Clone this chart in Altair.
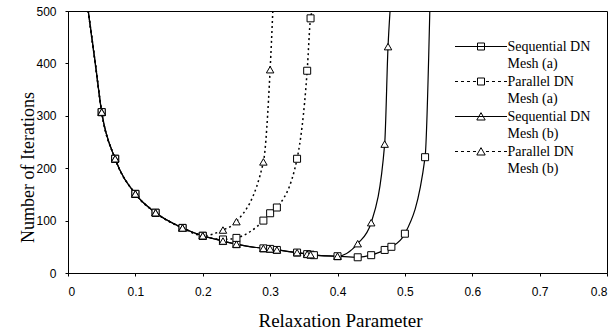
import altair as alt
import pandas as pd

# ---- data ----
seq_a_x = [0.05, 0.07, 0.10, 0.13, 0.17, 0.20, 0.23, 0.25, 0.29, 0.30, 0.31, 0.34, 0.355, 0.36, 0.365, 0.40, 0.43, 0.45, 0.47, 0.48, 0.50, 0.53]
seq_a_y = [307, 218, 151, 115, 86, 71, 61, 55, 47, 46, 44, 39, 36, 35, 34, 32, 30, 34, 44, 50, 75, 221]

par_a_x = [0.05, 0.07, 0.10, 0.13, 0.17, 0.20, 0.23, 0.25, 0.29, 0.30, 0.31, 0.34, 0.355, 0.36]
par_a_y = [307, 218, 151, 115, 86, 71, 64, 67, 100, 114, 125, 218, 386, 486]

seq_b_x = [0.05, 0.07, 0.10, 0.13, 0.17, 0.20, 0.23, 0.25, 0.29, 0.30, 0.31, 0.34, 0.355, 0.36, 0.40, 0.43, 0.45, 0.47, 0.475]
seq_b_y = [307, 218, 151, 115, 86, 71, 61, 55, 47, 46, 44, 39, 36, 35, 32, 56, 96, 246, 432]

par_b_x = [0.05, 0.07, 0.10, 0.13, 0.17, 0.20, 0.23, 0.25, 0.29, 0.30]
par_b_y = [307, 218, 151, 115, 86, 71, 82, 98, 212, 388]

# where the fitted curves leave the plot at the top
curve_start_x = [0.030, 0.0405]
curve_start_y = [500, 400]
seq_a_end = (0.537, 500)
par_a_end = (0.363, 500)
seq_b_end = (0.478, 500)
par_b_end = (0.304, 500)

x_ticks = [0, 0.1, 0.2, 0.3, 0.4, 0.5, 0.6, 0.7, 0.8]
y_ticks = [0, 100, 200, 300, 400, 500]

legend_keys = ["Sequential DN|1", "Mesh (a)|1", "Parallel DN|2", "Mesh (a)|2",
               "Sequential DN|3", "Mesh (b)|3", "Parallel DN|4", "Mesh (b)|4"]

# legend symbol paths (line + marker)
solid = "M-3.714,0H3.714"
dashed = ("M-3.714,0H-3.286M-2.857,0H-2.429M-2,0H-1.571M-1.143,0H-0.714"
          "M0.714,0H1.143M1.571,0H2M2.429,0H2.857M3.286,0H3.714")
sq = "M-0.5,-0.5H0.5V0.5H-0.5Z"
tri = "M0,-0.55L0.6,0.5H-0.6Z"
blank = "M0,0"
legend_paths = [solid + sq, blank, dashed + sq, blank, solid + tri, blank, dashed + tri, blank]


def line_df(xs, ys, end):
    return pd.DataFrame({"x": curve_start_x + xs + [end[0]],
                         "y": curve_start_y + ys + [end[1]]})


def pts_df(xs, ys):
    return pd.DataFrame({"x": xs, "y": ys})


xscale = alt.Scale(domain=[0, 0.8], nice=False, zero=False)
yscale = alt.Scale(domain=[0, 500], nice=False)

xaxis = alt.Axis(values=x_ticks, format=".1~f", title="Relaxation Parameter",
                 tickSize=3, labelPadding=10, titleX=272, titleY=47,
                 titleAlign="center", titleBaseline="middle")
yaxis = alt.Axis(values=y_ticks, title="Number of Iterations", tickSize=3,
                 labelPadding=9, titleX=-40, titleY=156, titleAngle=-90,
                 titleAlign="center", titleBaseline="middle")

X = alt.X("x:Q", scale=xscale, axis=xaxis)
Y = alt.Y("y:Q", scale=yscale, axis=yaxis)


def line(df, dash):
    kw = dict(interpolate="monotone", color="black", strokeWidth=1.2, clip=True)
    if dash:
        kw["strokeDash"] = [2, 3]
        kw["strokeWidth"] = 1.5
    return alt.Chart(df).mark_line(**kw).encode(x=X, y=Y)


def pts(df, shape, size):
    return alt.Chart(df).mark_point(shape=shape, size=size, filled=True, fill="white",
                                    stroke="black", strokeWidth=1, opacity=1,
                                    clip=True).encode(x=X, y=Y)


legend_df = pd.DataFrame({"k": legend_keys})
legend_layer = alt.Chart(legend_df).mark_point(
    filled=False, color="black", strokeWidth=1
).encode(
    shape=alt.Shape("k:N", scale=alt.Scale(domain=legend_keys, range=legend_paths),
                    legend=alt.Legend(
                        title=None, orient="none", legendX=387, legendY=28,
                        padding=0, symbolSize=196, symbolOffset=18.5, labelOffset=19,
                        symbolOpacity=1, symbolStrokeWidth=1, symbolStrokeColor="black",
                        rowPadding=2.5,
                        labelFont="Liberation Serif", labelFontSize=14, labelColor="black",
                        labelLimit=300,
                        labelExpr="split(datum.label, '|')[0]"))
).transform_filter("datum.k == 'none'")

chart = alt.layer(
    line(line_df(par_a_x, par_a_y, par_a_end), True),
    line(line_df(par_b_x, par_b_y, par_b_end), True),
    line(line_df(seq_a_x, seq_a_y, seq_a_end), False),
    line(line_df(seq_b_x, seq_b_y, seq_b_end), False),
    pts(pts_df(seq_a_x, seq_a_y), "square", 49),
    pts(pts_df(par_a_x, par_a_y), "square", 49),
    pts(pts_df(seq_b_x, seq_b_y), "triangle-up", 56),
    pts(pts_df(par_b_x, par_b_y), "triangle-up", 56),
    legend_layer,
).properties(
    width=539, height=262,
    autosize=alt.AutoSizeParams(type="none"),
    padding={"left": 68, "top": 11, "right": 9, "bottom": 61},
    background="white",
).configure_view(
    stroke="black", strokeWidth=1
).configure_axis(
    grid=False, domainColor="black", tickColor="black", labelColor="black",
    labelFont="Liberation Sans", labelFontSize=12,
    titleFont="Liberation Serif", titleFontSize=19, titleFontWeight="normal",
    titleColor="black",
).configure_axisY(titleFontSize=18)

chart.save("out.html", embed_options={"renderer": "svg", "actions": False})
